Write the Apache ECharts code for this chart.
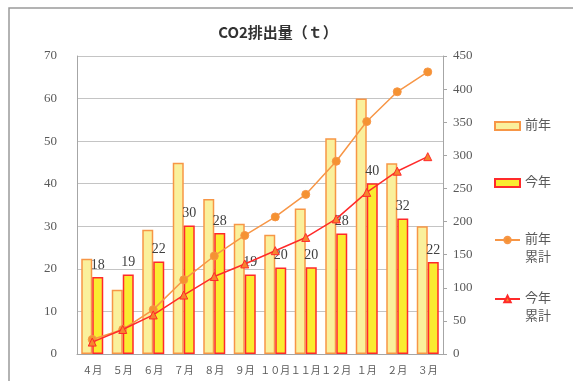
<!DOCTYPE html>
<html>
<head>
<meta charset="utf-8">
<script src="https://cdn.jsdelivr.net/npm/echarts@6/dist/echarts.min.js"></script>
<style>
  html, body { margin: 0; padding: 0; background: #fff; }
  #chart { width: 573px; height: 381px; }
</style>
</head>
<body>
<div id="chart"></div>
<script>
// Monthly CO2 emissions (t), fiscal year April → March
const months = ['４月', '５月', '６月', '７月', '８月', '９月', '１０月', '１１月', '１２月', '１月', '２月', '３月'];
const prevYear = [22.4, 15.1, 29.2, 44.9, 36.4, 30.6, 28.0, 34.2, 50.7, 60.0, 44.8, 30.0];
const thisYear = [18.1, 18.7, 21.7, 30.2, 28.4, 18.7, 20.3, 20.4, 28.3, 40.1, 31.8, 21.6];
const prevYearTotal = [22, 37, 67, 112, 148, 179, 207, 241, 291, 351, 396, 426];
const thisYearTotal = [18, 37, 59, 89, 117, 136, 156, 176, 204, 244, 276, 298];

const serif = '"Liberation Serif", "DejaVu Serif", "Noto Sans CJK JP", serif';
const labelGray = '#595959';

const chart = echarts.init(document.getElementById('chart'), null, { renderer: 'canvas' });

// One legend block per entry so each can sit at its own height.
// Two-line names get a leading blank line so the first line lines up with the icon.
function legendBlock(name, top, twoLine, icon) {
  return {
    data: [icon ? { name: name, icon: icon } : name],
    left: 494,
    top: top,
    padding: 0,
    itemWidth: 25,
    itemHeight: 8,
    selectedMode: false,
    formatter: twoLine ? (n) => '\n' + n.slice(0, 2) + '\n' + n.slice(2) : undefined,
    textStyle: {
      fontFamily: serif,
      fontSize: 13,
      color: labelGray,
      lineHeight: 18
    }
  };
}

chart.setOption({
  animation: false,
  backgroundColor: '#fff',
  title: {
    text: 'CO2排出量（ｔ）',
    left: 273,
    top: 20,
    textAlign: 'center',
    textStyle: {
      fontFamily: '"Noto Sans CJK JP", sans-serif',
      fontSize: 15,
      fontWeight: 'bold',
      color: '#333'
    }
  },
  graphic: [{
    type: 'rect',
    shape: { x: 9, y: 8, width: 600, height: 400 },
    style: { fill: 'none', stroke: '#9a9a9a', lineWidth: 1.5 },
    silent: true,
    z: -1
  }],
  legend: [
    legendBlock('前年', 117, false, 'rect'),
    legendBlock('今年', 174, false, 'rect'),
    legendBlock('前年累計', 213, true),
    legendBlock('今年累計', 272, true)
  ],
  grid: { left: 77, right: 130, top: 56, bottom: 27, containLabel: false },
  xAxis: {
    type: 'category',
    data: months,
    axisLine: { lineStyle: { color: '#a6a6a6' } },
    axisTick: { show: false },
    axisLabel: { fontFamily: serif, fontSize: 10, color: labelGray, margin: 12, interval: 0 }
  },
  yAxis: [{
    type: 'value',
    min: 0, max: 70, interval: 10,
    axisLine: { show: true, lineStyle: { color: '#a6a6a6' } },
    axisTick: { show: false },
    axisLabel: { fontFamily: serif, fontSize: 13, color: labelGray, margin: 20 },
    splitLine: { lineStyle: { color: '#c4c4c4', width: 1 } }
  }, {
    type: 'value',
    min: 0, max: 450, interval: 50,
    position: 'right',
    axisLine: { show: true, lineStyle: { color: '#a6a6a6' } },
    axisTick: { show: true, length: 4, lineStyle: { color: '#a6a6a6' } },
    axisLabel: { fontFamily: serif, fontSize: 13, color: labelGray, margin: 10 },
    splitLine: { show: false }
  }],
  series: [{
    name: '前年',
    type: 'bar',
    data: prevYear,
    barWidth: 11,
    barGap: '0%',
    itemStyle: { color: '#FAF09C', borderColor: '#F79646', borderWidth: 1.5 }
  }, {
    name: '今年',
    type: 'bar',
    data: thisYear,
    barWidth: 11,
    barGap: '0%',
    itemStyle: { color: '#FAEB30', borderColor: '#FF2A2A', borderWidth: 1.5 },
    label: {
      show: true,
      position: 'top',
      distance: 5,
      fontFamily: serif,
      fontSize: 14,
      color: '#404040',
      formatter: (p) => Math.round(p.value)
    }
  }, {
    name: '前年累計',
    type: 'line',
    yAxisIndex: 1,
    data: prevYearTotal,
    symbol: 'circle',
    symbolSize: 8,
    lineStyle: { color: '#F79646', width: 1.5 },
    itemStyle: { color: '#F59232', borderColor: '#F79646', borderWidth: 1 },
    z: 5
  }, {
    name: '今年累計',
    type: 'line',
    yAxisIndex: 1,
    data: thisYearTotal,
    symbol: 'triangle',
    symbolSize: 8,
    lineStyle: { color: '#FF2A2A', width: 1.5 },
    itemStyle: { color: '#F5862E', borderColor: '#FF2A2A', borderWidth: 1 },
    z: 6
  }]
});
</script>
</body>
</html>
